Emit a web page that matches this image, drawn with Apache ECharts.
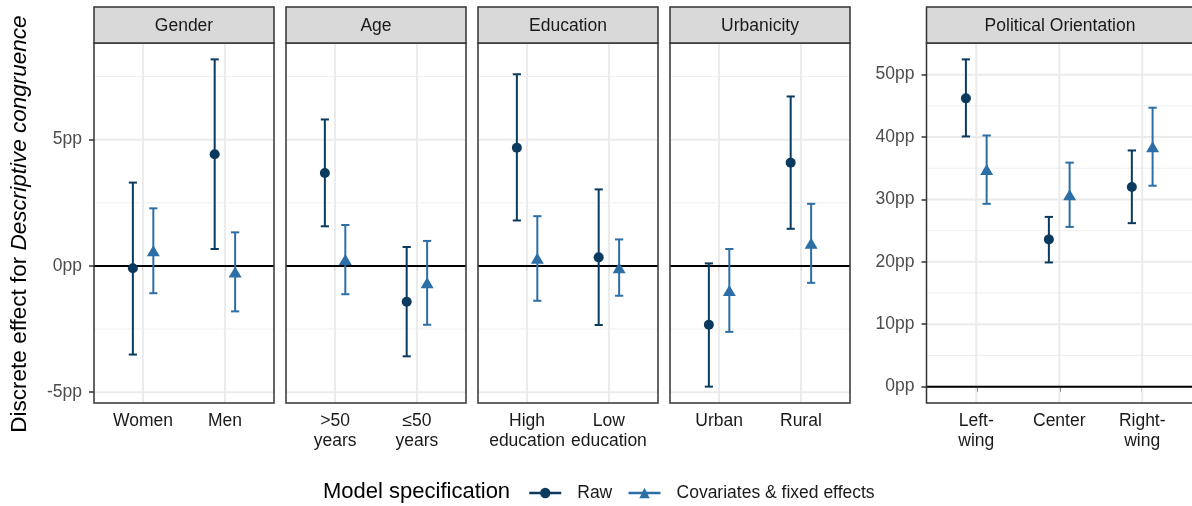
<!DOCTYPE html>
<html>
<head>
<meta charset="utf-8">
<script src="https://cdn.jsdelivr.net/npm/echarts@6/dist/echarts.min.js"></script>
<style>
html,body{margin:0;padding:0;background:#ffffff;}
#chart{width:1192px;height:506px;}
</style>
</head>
<body>
<div id="chart"></div>
<script>
// ---------------- DATA ----------------
const panelTitles = ['Gender', 'Age', 'Education', 'Urbanicity', 'Political Orientation'];

const genderCats = ['Women', 'Men'];
const ageCats = ['>50\nyears', '≤50\nyears'];
const educationCats = ['High\neducation', 'Low\neducation'];
const urbanicityCats = ['Urban', 'Rural'];
const politicalCats = ['Left-\nwing', 'Center', 'Right-\nwing'];

// each row: [estimate, lower, upper]
const genderRaw = [[-0.09, -3.51, 3.30], [4.42, 0.67, 8.18]];
const genderCov = [[0.60, -1.08, 2.28], [-0.24, -1.80, 1.33]];
const ageRaw = [[3.68, 1.57, 5.80], [-1.42, -3.58, 0.75]];
const ageCov = [[0.25, -1.12, 1.62], [-0.67, -2.33, 0.99]];
const educationRaw = [[4.68, 1.80, 7.59], [0.34, -2.34, 3.03]];
const educationCov = [[0.30, -1.38, 1.97], [-0.07, -1.18, 1.05]];
const urbanicityRaw = [[-2.33, -4.78, 0.10], [4.09, 1.47, 6.71]];
const urbanicityCov = [[-0.97, -2.61, 0.67], [0.90, -0.67, 2.46]];
const politicalRaw = [[46.2, 40.1, 52.45], [23.6, 19.9, 27.2], [32.0, 26.2, 37.85]];
const politicalCov = [[34.8, 29.3, 40.25], [30.75, 25.6, 35.9], [38.45, 32.2, 44.7]];

const sharedYTicks = [-5, 0, 5];
const sharedYMinor = [-2.5, 2.5, 7.5];
const politicalYTicks = [0, 10, 20, 30, 40, 50];
const politicalYMinor = [5, 15, 25, 35, 45, 55];

const seriesNames = ['Raw', 'Covariates & fixed effects'];
const legendTitle = 'Model specification';
const yTitlePlain = 'Discrete effect for ';
const yTitleItalic = 'Descriptive congruence';

// ---------------- STYLE / LAYOUT ----------------
const FONT = '"Liberation Sans", Arial, Helvetica, sans-serif';
const rawColor = '#0B3A5F';
const covColor = '#2C6EA6';
const dodge = 0.125;
const capWidth = 0.1;
const panelLeft = [94, 286, 478, 670, 926.5];
const panelWidth = [180, 180, 180, 180, 267];
const panelTop = 43;
const panelHeight = 360;
const stripTop = 7;
const stripHeight = 36;

function yRange(rowsList, includeZero) {
  let lo = Infinity, hi = -Infinity;
  rowsList.forEach(rows => rows.forEach(r => { lo = Math.min(lo, r[1]); hi = Math.max(hi, r[2]); }));
  if (includeZero) { lo = Math.min(lo, 0); hi = Math.max(hi, 0); }
  const e = (hi - lo) * 0.05;
  return [lo - e, hi + e];
}
const sharedRange = yRange([genderRaw, genderCov, ageRaw, ageCov, educationRaw, educationCov, urbanicityRaw, urbanicityCov], true);
const politicalRange = yRange([politicalRaw, politicalCov], true);

const panels = [
  { cats: genderCats, raw: genderRaw, cov: genderCov, range: sharedRange, yTicks: sharedYTicks, yMinor: sharedYMinor, showY: true },
  { cats: ageCats, raw: ageRaw, cov: ageCov, range: sharedRange, yTicks: sharedYTicks, yMinor: sharedYMinor, showY: false },
  { cats: educationCats, raw: educationRaw, cov: educationCov, range: sharedRange, yTicks: sharedYTicks, yMinor: sharedYMinor, showY: false },
  { cats: urbanicityCats, raw: urbanicityRaw, cov: urbanicityCov, range: sharedRange, yTicks: sharedYTicks, yMinor: sharedYMinor, showY: false },
  { cats: politicalCats, raw: politicalRaw, cov: politicalCov, range: politicalRange, yTicks: politicalYTicks, yMinor: politicalYMinor, showY: true }
];

function hLines(i, values, color, width, z) {
  return {
    type: 'custom', xAxisIndex: i, yAxisIndex: i, silent: true, z: z, clip: true,
    data: values.map(v => [1, v]),
    renderItem: function (params, api) {
      const cs = params.coordSys;
      const y = api.coord([1, api.value(1)])[1];
      return { type: 'line', shape: { x1: cs.x, y1: y, x2: cs.x + cs.width, y2: y },
        style: { stroke: color, lineWidth: width } };
    }
  };
}
function vLines(i, values, color, width, z) {
  return {
    type: 'custom', xAxisIndex: i, yAxisIndex: i, silent: true, z: z, clip: true,
    data: values.map(v => [v, 0]),
    renderItem: function (params, api) {
      const cs = params.coordSys;
      const x = api.coord([api.value(0), 0])[0];
      return { type: 'line', shape: { x1: x, y1: cs.y, x2: x, y2: cs.y + cs.height },
        style: { stroke: color, lineWidth: width } };
    }
  };
}
function errorBars(i, rows, offset, color) {
  return {
    type: 'custom', xAxisIndex: i, yAxisIndex: i, silent: true, z: 4,
    data: rows.map((r, k) => [k + 1, r[1], r[2]]),
    renderItem: function (params, api) {
      const x = api.value(0) + offset;
      const lo = api.coord([x, api.value(1)]);
      const hi = api.coord([x, api.value(2)]);
      const half = api.size([capWidth / 2, 0])[0];
      const st = { stroke: color, lineWidth: 2 };
      return { type: 'group', children: [
        { type: 'line', shape: { x1: lo[0], y1: lo[1], x2: hi[0], y2: hi[1] }, style: st },
        { type: 'line', shape: { x1: lo[0] - half, y1: lo[1], x2: lo[0] + half, y2: lo[1] }, style: st },
        { type: 'line', shape: { x1: hi[0] - half, y1: hi[1], x2: hi[0] + half, y2: hi[1] }, style: st }
      ] };
    }
  };
}
function points(i, rows, offset, name, color, symbol, size) {
  return {
    type: 'line', name: name, xAxisIndex: i, yAxisIndex: i, silent: true, z: 6,
    data: rows.map((r, k) => [k + 1 + offset, r[0]]),
    symbol: symbol, symbolSize: size, showSymbol: true,
    itemStyle: { color: color }, lineStyle: { width: 0, color: color }
  };
}

const grids = [], xAxes = [], yAxes = [], series = [], graphics = [];
panels.forEach((p, i) => {
  const n = p.cats.length;
  const ticks = p.cats.map((c, k) => k + 1);
  grids.push({ left: panelLeft[i], top: panelTop, width: panelWidth[i], height: panelHeight,
    show: true, backgroundColor: '#ffffff', borderWidth: 0 });
  xAxes.push({
    gridIndex: i, type: 'value', min: 0.4, max: n + 0.6,
    axisLine: { show: false }, splitLine: { show: false },
    axisTick: { show: true, length: 5, lineStyle: { color: '#333333', width: 1.5 }, customValues: ticks },
    axisLabel: { customValues: ticks, formatter: v => p.cats[Math.round(v) - 1],
      color: '#1A1A1A', fontSize: 17.5, fontFamily: FONT, margin: 8, lineHeight: 20 }
  });
  yAxes.push({
    gridIndex: i, type: 'value', min: p.range[0], max: p.range[1],
    axisLine: { show: false }, splitLine: { show: false },
    axisTick: { show: p.showY, length: 5, lineStyle: { color: '#333333', width: 1.5 }, customValues: p.yTicks },
    axisLabel: { show: p.showY, customValues: p.yTicks, formatter: v => v + 'pp',
      color: '#4D4D4D', fontSize: 17.5, fontFamily: FONT, margin: 12 }
  });
  series.push(hLines(i, p.yMinor, '#EFEFEF', 1, 1));
  series.push(hLines(i, p.yTicks, '#EBEBEB', 2, 1));
  series.push(vLines(i, ticks, '#EBEBEB', 2, 1));
  series.push(hLines(i, [0], '#000000', 2, 2));
  series.push(errorBars(i, p.raw, -dodge, rawColor));
  series.push(errorBars(i, p.cov, dodge, covColor));
  series.push(points(i, p.raw, -dodge, seriesNames[0], rawColor, 'circle', 10));
  series.push(points(i, p.cov, dodge, seriesNames[1], covColor, 'triangle', [13, 11]));

  graphics.push({ type: 'rect', z: 100,
    shape: { x: panelLeft[i], y: panelTop, width: panelWidth[i], height: panelHeight },
    style: { fill: 'none', stroke: '#333333', lineWidth: 1.5 } });
  graphics.push({ type: 'rect', z: 100,
    shape: { x: panelLeft[i], y: stripTop, width: panelWidth[i], height: stripHeight },
    style: { fill: '#D9D9D9', stroke: '#333333', lineWidth: 1.5 } });
  graphics.push({ type: 'text', z: 101, x: panelLeft[i] + panelWidth[i] / 2, y: stripTop + stripHeight / 2 + 1,
    style: { text: panelTitles[i], fill: '#1A1A1A', font: '17.5px ' + FONT, align: 'center', verticalAlign: 'middle' } });
});

graphics.push({ type: 'text', z: 101, x: 20, y: 224, rotation: Math.PI / 2,
  style: { text: '{a|' + yTitlePlain + '}{b|' + yTitleItalic + '}', align: 'center', verticalAlign: 'middle',
    rich: { a: { fontSize: 22.5, fontFamily: FONT, fill: '#000000' },
            b: { fontSize: 22.5, fontFamily: FONT, fontStyle: 'italic', fill: '#000000' } } } });
graphics.push({ type: 'text', z: 101, x: 323, y: 492,
  style: { text: legendTitle, fill: '#000000', font: '22px ' + FONT, align: 'left', verticalAlign: 'middle' } });

const chart = echarts.init(document.getElementById('chart'), null, { renderer: 'canvas' });
chart.setOption({
  animation: false,
  backgroundColor: '#ffffff',
  grid: grids, xAxis: xAxes, yAxis: yAxes, series: series,
  legend: {
    left: 523, top: 479, itemWidth: 32, itemHeight: 13, itemGap: 15, selectedMode: false,
    data: seriesNames,
    lineStyle: { width: 2.5 },
    textStyle: { fontSize: 17.5, color: '#1A1A1A', fontFamily: FONT, padding: [0, 0, 0, 11] }
  },
  graphic: { elements: graphics }
});
</script>
</body>
</html>
